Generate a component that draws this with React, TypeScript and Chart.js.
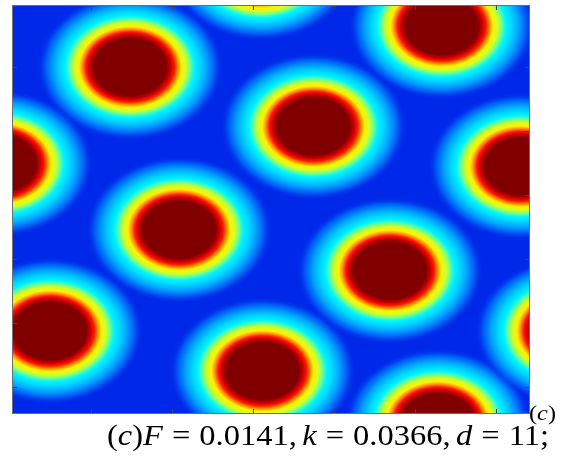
import React, { useEffect, useLayoutEffect, useRef } from "react";
import { Chart, registerables } from "chart.js";

Chart.register(...registerables);

// 128 x 128 grid (imagesc-style), axis limits in cell units
const gridMin = 0.5;
const gridMax = 128.5;
const xTickValues = [20, 40, 60, 80, 100, 120];
const yTickValues = [20, 40, 60, 80, 100, 120];

// Spot centres (grid cells); some lie partly outside the domain
const spotX = [29.7, -2.5, 75.0, 41.8, 106.7, 126.3, 9.9, 62.4, 93.9, 105.7, 137.9, 62.0];
const spotY = [19.9, 50.1, 38.5, 70.8, 7.1, 51.0, 102.5, 115.0, 83.6, 131.0, 102.5, -11.3];
// Radius (in grid cells) where a spot's halo meets the background
const spotRadius = 23;

const captionText = ["(", "c", ")", "F", "0.0141,", "k", "0.0366,", "d", "11;"];
const panelLabel = "c";

const BG = "rgb(0,40,233)";
const STOPS: [number, string][] = [
  [0, "rgb(128,0,0)"],
  [0.39, "rgb(128,0,0)"],
  [0.435, "rgb(200,0,0)"],
  [0.475, "rgb(255,20,0)"],
  [0.515, "rgb(255,150,0)"],
  [0.55, "rgb(255,240,0)"],
  [0.6, "rgb(210,255,40)"],
  [0.645, "rgb(110,255,140)"],
  [0.69, "rgb(0,245,255)"],
  [0.75, "rgb(0,215,255)"],
  [0.83, "rgb(0,160,255)"],
  [0.91, "rgba(0,100,248,0.85)"],
  [1, "rgba(0,40,233,0)"],
];

const fieldPlugin = {
  id: "spotField",
  beforeDatasetsDraw(chart: any) {
    const { ctx, chartArea: a, scales } = chart;
    const xs = scales.x;
    const ys = scales.y;
    ctx.save();
    ctx.beginPath();
    ctx.rect(a.left, a.top, a.right - a.left, a.bottom - a.top);
    ctx.clip();
    ctx.fillStyle = BG;
    ctx.fillRect(a.left, a.top, a.right - a.left, a.bottom - a.top);
    const meta = chart.getDatasetMeta(0);
    const raw = chart.data.datasets[0].data;
    meta.data.forEach((pt: any, i: number) => {
      const cx = pt.x;
      const cy = pt.y;
      const rx = Math.abs(xs.getPixelForValue(raw[i].x + spotRadius) - cx);
      const ry = Math.abs(ys.getPixelForValue(raw[i].y + spotRadius) - cy);
      ctx.save();
      ctx.translate(cx, cy);
      ctx.scale(1, ry / rx);
      const g = ctx.createRadialGradient(0, 0, 0, 0, 0, rx);
      STOPS.forEach(([t, c]) => g.addColorStop(t, c));
      ctx.fillStyle = g;
      ctx.beginPath();
      ctx.arc(0, 0, rx, 0, Math.PI * 2);
      ctx.fill();
      ctx.restore();
    });
    ctx.restore();
  },
  afterDatasetsDraw(chart: any) {
    const { ctx, chartArea: a, scales } = chart;
    const xs = scales.x;
    const ys = scales.y;
    ctx.save();
    ctx.strokeStyle = "rgb(70,70,70)";
    ctx.lineWidth = 1;
    const len = 5;
    ctx.beginPath();
    xTickValues.forEach((v) => {
      const px = Math.round(xs.getPixelForValue(v)) + 0.5;
      ctx.moveTo(px, a.top);
      ctx.lineTo(px, a.top + len);
      ctx.moveTo(px, a.bottom);
      ctx.lineTo(px, a.bottom - len);
    });
    yTickValues.forEach((v) => {
      const py = Math.round(ys.getPixelForValue(v)) + 0.5;
      ctx.moveTo(a.left, py);
      ctx.lineTo(a.left + len, py);
      ctx.moveTo(a.right, py);
      ctx.lineTo(a.right - len, py);
    });
    ctx.stroke();
    ctx.strokeStyle = "rgb(110,110,110)";
    ctx.strokeRect(a.left + 0.5, a.top + 0.5, a.right - a.left - 1, a.bottom - a.top - 1);
    ctx.restore();
  },
};

const Eq = () => <span style={{ margin: "0 0.278em" }}>=</span>;
const Thin = () => <span style={{ display: "inline-block", width: "0.167em" }} />;

export default function App() {
  const canvasRef = useRef<HTMLCanvasElement>(null);
  const capRef = useRef<HTMLDivElement>(null);
  const labRef = useRef<HTMLDivElement>(null);

  useEffect(() => {
    const canvas = canvasRef.current;
    if (!canvas) return;
    const chart = new Chart(canvas, {
      type: "scatter",
      data: {
        datasets: [
          {
            data: spotX.map((x, i) => ({ x, y: spotY[i] })),
            pointRadius: 0,
            pointHoverRadius: 0,
          },
        ],
      },
      options: {
        animation: false,
        responsive: false,
        devicePixelRatio: 1,
        events: [],
        layout: { padding: { left: 12, top: 5, right: 33, bottom: 43 } },
        plugins: { legend: { display: false }, tooltip: { enabled: false } },
        scales: {
          x: { type: "linear", min: gridMin, max: gridMax, display: false },
          y: { type: "linear", min: gridMin, max: gridMax, reverse: true, display: false },
        },
      },
      plugins: [fieldPlugin],
    } as any);
    return () => chart.destroy();
  }, []);

  useLayoutEffect(() => {
    const fit = (el: HTMLDivElement | null, width: number) => {
      if (!el) return;
      el.style.transform = "none";
      const w = el.getBoundingClientRect().width;
      el.style.transform = `scaleX(${width / w})`;
    };
    fit(capRef.current, 442);
    fit(labRef.current, 27);
  }, []);

  const textBase: React.CSSProperties = {
    position: "absolute",
    fontFamily: "'Liberation Serif', 'Times New Roman', serif",
    lineHeight: 1,
    whiteSpace: "nowrap",
    transformOrigin: "left top",
    color: "#000",
  };

  return (
    <div style={{ position: "absolute", left: 0, top: 0, width: 563, height: 457, background: "#fff" }}>
      <canvas ref={canvasRef} width={563} height={457} style={{ display: "block", width: 563, height: 457 }} />
      <div ref={labRef} style={{ ...textBase, left: 529, top: 402, fontSize: 22 }}>
        (<i>{panelLabel}</i>)
      </div>
      <div ref={capRef} style={{ ...textBase, left: 107, top: 420, fontSize: 30 }}>
        <span>{captionText[0]}</span>
        <i>{captionText[1]}</i>
        <span>{captionText[2]}</span>
        <i>{captionText[3]}</i>
        <Eq />
        {captionText[4]}
        <Thin />
        <i>{captionText[5]}</i>
        <Eq />
        {captionText[6]}
        <Thin />
        <i>{captionText[7]}</i>
        <Eq />
        {captionText[8]}
      </div>
    </div>
  );
}
